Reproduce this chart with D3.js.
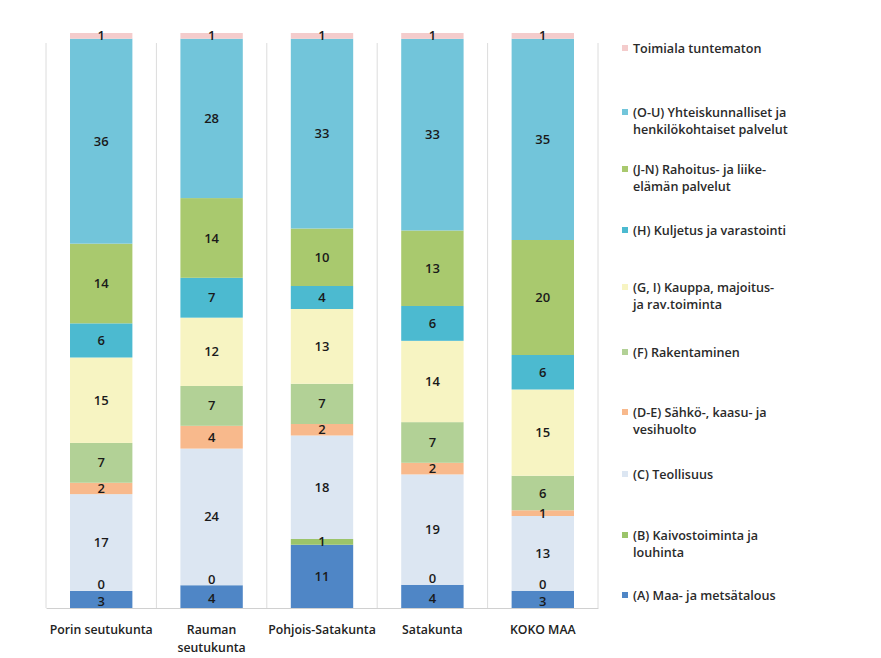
<!DOCTYPE html>
<html><head><meta charset="utf-8">
<script src="https://cdn.jsdelivr.net/npm/d3@7"></script>
<style>body{margin:0;background:#fff;}svg{display:block;}</style>
</head><body>
<svg id="chart" width="881" height="658"></svg>
<script>
const categories = [["Porin seutukunta"], ["Rauman", "seutukunta"], ["Pohjois-Satakunta"], ["Satakunta"], ["KOKO MAA"]];
const seriesNames = ["(A) Maa- ja metsätalous", "(B) Kaivostoiminta ja louhinta", "(C) Teollisuus", "(D-E) Sähkö-, kaasu- ja vesihuolto", "(F) Rakentaminen", "(G, I) Kauppa, majoitus- ja rav.toiminta", "(H) Kuljetus ja varastointi", "(J-N) Rahoitus- ja liike-elämän palvelut", "(O-U) Yhteiskunnalliset ja henkilökohtaiset palvelut", "Toimiala tuntematon"];
const legendLines = [["(A) Maa- ja metsätalous"], ["(B) Kaivostoiminta ja", "louhinta"], ["(C) Teollisuus"], ["(D-E) Sähkö-, kaasu- ja", "vesihuolto"], ["(F) Rakentaminen"], ["(G, I) Kauppa, majoitus-", "ja rav.toiminta"], ["(H) Kuljetus ja varastointi"], ["(J-N) Rahoitus- ja liike-", "elämän palvelut"], ["(O-U) Yhteiskunnalliset ja", "henkilökohtaiset palvelut"], ["Toimiala tuntematon"]];
const seriesColors = ["#4f86c6", "#9bc46a", "#dce6f2", "#f8b98c", "#b2d196", "#f7f4c2", "#4cbad0", "#a9c96e", "#72c5da", "#f4cccc"];
const valA  = [3, 4, 11, 4, 3];
const valB  = [0, 0, 1, 0, 0];
const valC  = [17, 24, 18, 19, 13];
const valDE = [2, 4, 2, 2, 1];
const valF  = [7, 7, 7, 7, 6];
const valGI = [15, 12, 13, 14, 15];
const valH  = [6, 7, 4, 6, 6];
const valJN = [14, 14, 10, 13, 20];
const valOU = [36, 28, 33, 33, 35];
const valT  = [1, 1, 1, 1, 1];
const seriesValues = [valA, valB, valC, valDE, valF, valGI, valH, valJN, valOU, valT];

const svg = d3.select("#chart");
const font = "'Open Sans', 'Noto Sans', sans-serif";
const margin = {left: 46, right: 283, top: 33, bottom: 50};
const W = 881, H = 658;
const x = d3.scaleBand().domain(d3.range(categories.length)).range([margin.left, W - margin.right]).paddingInner(0.435).paddingOuter(0.2175);
const xOuter = d3.scaleBand().domain(d3.range(categories.length)).range([margin.left, W - margin.right]);
const y = d3.scaleLinear().domain([0, 1]).range([H - margin.bottom, margin.top]);

const rows = categories.map((c, i) => {
  const r = {i};
  seriesNames.forEach((s, k) => r[s] = seriesValues[k][i]);
  return r;
});
const stack = d3.stack().keys(seriesNames).offset(d3.stackOffsetExpand);
const stacked = stack(rows);

// vertical separators
const bounds = d3.range(categories.length + 1).map(i => i < categories.length ? xOuter(i) : xOuter(categories.length - 1) + xOuter.bandwidth());
svg.append("g").selectAll("line").data(bounds).join("line")
  .attr("x1", d => d).attr("x2", d => d)
  .attr("y1", margin.top + 10).attr("y2", H - margin.bottom)
  .attr("stroke", "#dcdcdc").attr("stroke-width", 1);

// bars
const g = svg.append("g");
stacked.forEach((layer, k) => {
  g.append("g").selectAll("rect").data(layer).join("rect")
    .attr("x", d => x(d.data.i))
    .attr("width", x.bandwidth())
    .attr("y", d => y(d[1]))
    .attr("height", d => Math.max(0, y(d[0]) - y(d[1])))
    .attr("fill", seriesColors[k]);
});

// axis line
svg.append("g").attr("transform", `translate(0,${H - margin.bottom})`)
  .call(d3.axisBottom(xOuter).tickSize(0).tickFormat(""))
  .call(a => a.select(".domain").attr("stroke", "#d0d0d0"));

// labels
stacked.forEach((layer, k) => {
  g.append("g").selectAll("text").data(layer).join("text")
    .attr("x", d => x(d.data.i) + x.bandwidth() / 2)
    .attr("y", d => (y(d[0]) + y(d[1])) / 2 + (seriesValues[k][d.data.i] === 0 ? -6 : 0) + (k === 0 && seriesValues[1][d.data.i] === 0 ? 2 : 0))
    .attr("dy", "0.35em")
    .attr("text-anchor", "middle")
    .attr("font-family", font).attr("font-size", 13).attr("font-weight", 600)
    .attr("fill", "#1a1a1a")
    .text(d => seriesValues[k][d.data.i]);
});

// category labels
categories.forEach((lines, i) => {
  const t = svg.append("text").attr("x", xOuter(i) + xOuter.bandwidth() / 2).attr("y", 634)
    .attr("text-anchor", "middle").attr("font-family", font).attr("font-size", 12.3).attr("font-weight", 600).attr("fill", "#222");
  lines.forEach((l, j) => t.append("tspan").attr("x", xOuter(i) + xOuter.bandwidth() / 2).attr("dy", j ? 17.5 : 0).text(l));
});

// legend
const legendY = [596, 536, 475, 413, 353, 288, 231, 170, 113, 49];
const lg = svg.append("g");
legendLines.forEach((lines, k) => {
  lg.append("rect").attr("x", 622).attr("y", legendY[k] - 4).attr("width", 6).attr("height", 6).attr("fill", seriesColors[k]);
  const t = lg.append("text").attr("x", 633).attr("y", legendY[k]).attr("dy", "0.35em")
    .attr("font-family", font).attr("font-size", 12.6).attr("font-weight", 600).attr("fill", "#2a2a2a");
  lines.forEach((l, j) => t.append("tspan").attr("x", 633).attr("dy", j ? 17 : "0.35em").text(l));
});
</script>
</body></html>
